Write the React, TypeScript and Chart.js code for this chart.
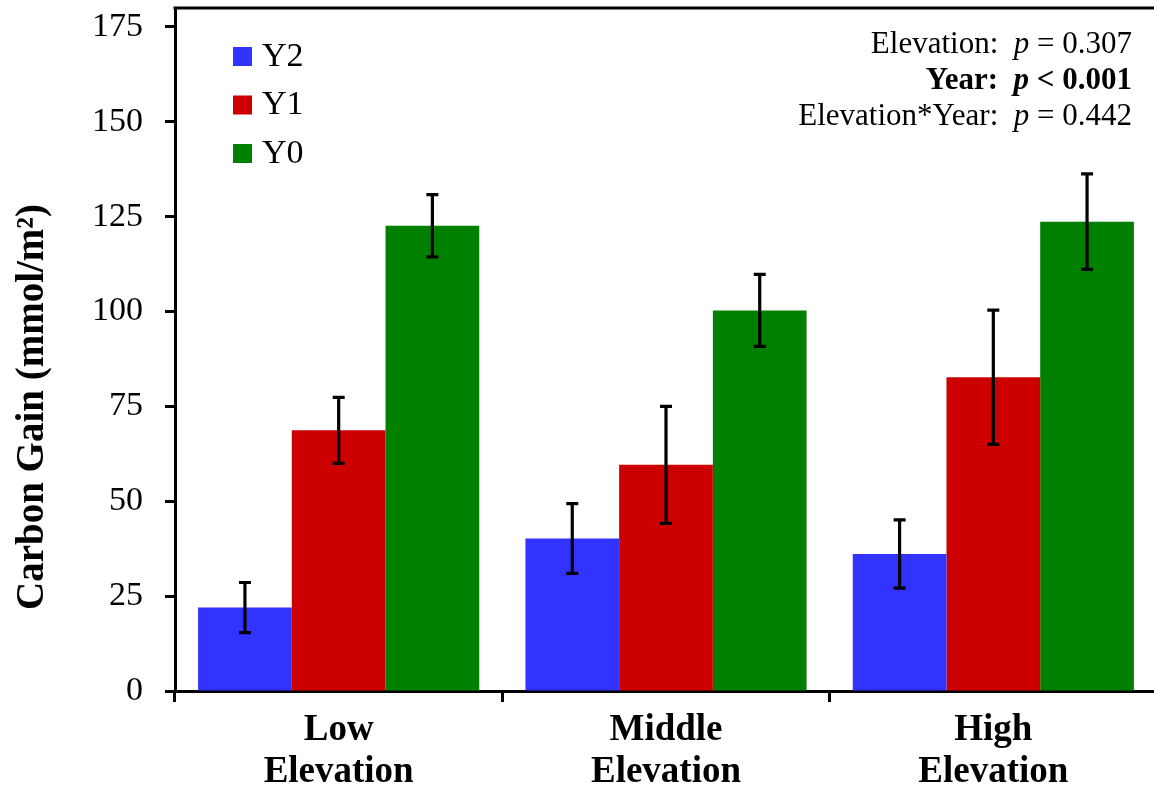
import React, { useEffect, useRef } from "react";
import { Chart, registerables } from "chart.js";

Chart.register(...registerables);

// ---- data ----
const categories = [["Low", "Elevation"], ["Middle", "Elevation"], ["High", "Elevation"]];
const seriesNames = ["Y2", "Y1", "Y0"];
const y2Values = [22.0, 40.2, 36.1];
const y1Values = [68.7, 59.6, 82.7];
const y0Values = [122.6, 100.3, 123.7];
const y2Errors = [6.6, 9.2, 9.0];
const y1Errors = [8.7, 15.4, 17.7];
const y0Errors = [8.2, 9.5, 12.6];
const seriesColors = ["#3333FF", "#CC0000", "#008000"];
const yAxisTitle = "Carbon Gain (mmol/m²)";
const yMin = 0;
const yMax = 180;
const yStep = 25;
const statLabels = ["Elevation:", "Year:", "Elevation*Year:"];
const statOperators = ["=", "<", "="];
const statValues = ["0.307", "0.001", "0.442"];
const statBold = [false, true, false];

const FAMILY = "'Liberation Serif', 'Times New Roman', Times, serif";

const overlayPlugin = {
  id: "overlay",
  afterDatasetsDraw(chart: any) {
    const ctx = chart.ctx;
    const ys = chart.scales.y;
    const area = chart.chartArea;
    ctx.save();
    // error bars
    chart.data.datasets.forEach((ds: any, i: number) => {
      const meta = chart.getDatasetMeta(i);
      meta.data.forEach((el: any, j: number) => {
        const v = ds.data[j];
        const e = ds.errors[j];
        const top = ys.getPixelForValue(v + e);
        const bot = ys.getPixelForValue(v - e);
        const cap = 6;
        ctx.strokeStyle = "#000";
        ctx.lineWidth = 3.2;
        ctx.lineCap = "butt";
        ctx.beginPath();
        ctx.moveTo(el.x, top);
        ctx.lineTo(el.x, bot);
        ctx.moveTo(el.x - cap, top);
        ctx.lineTo(el.x + cap, top);
        ctx.moveTo(el.x - cap, bot);
        ctx.lineTo(el.x + cap, bot);
        ctx.stroke();
      });
    });
    // top frame line
    ctx.strokeStyle = "#000";
    ctx.lineWidth = 3;
    ctx.beginPath();
    ctx.moveTo(area.left - 1.5, area.top);
    ctx.lineTo(chart.width, area.top);
    ctx.stroke();

    // y axis title
    ctx.save();
    ctx.translate(43, 610);
    ctx.rotate(-Math.PI / 2);
    ctx.font = `bold 39px ${FAMILY}`;
    ctx.fillStyle = "#000";
    ctx.textAlign = "left";
    ctx.textBaseline = "alphabetic";
    ctx.fillText(yAxisTitle, 0, 0);
    ctx.restore();

    // legend
    const lx = area.left + 58;
    const ly0 = area.top + 39;
    const gap = 48.5;
    ctx.textBaseline = "middle";
    ctx.textAlign = "left";
    ctx.font = `34px ${FAMILY}`;
    chart.data.datasets.forEach((ds: any, i: number) => {
      const y = ly0 + i * gap;
      ctx.fillStyle = ds.backgroundColor;
      ctx.fillRect(lx, y, 19, 19);
      ctx.fillStyle = "#000";
      ctx.fillText(ds.label, lx + 29, y + 10);
    });

    // statistics text
    const rightX = 1132;
    const base0 = 53;
    const lineGap = 36;
    const size = 31;
    ctx.textBaseline = "alphabetic";
    statLabels.forEach((lab, i) => {
      const b = statBold[i] ? "bold " : "";
      const segs = [
        { t: lab + "  ", f: `${b}${size}px ${FAMILY}` },
        { t: "p", f: `italic ${b}${size}px ${FAMILY}` },
        { t: ` ${statOperators[i]} ${statValues[i]}`, f: `${b}${size}px ${FAMILY}` },
      ];
      let total = 0;
      segs.forEach((s) => {
        ctx.font = s.f;
        total += ctx.measureText(s.t).width;
      });
      let x = rightX - total;
      const y = base0 + i * lineGap;
      ctx.fillStyle = "#000";
      segs.forEach((s) => {
        ctx.font = s.f;
        ctx.fillText(s.t, x, y);
        x += ctx.measureText(s.t).width;
      });
    });
    ctx.restore();
  },
};

export default function App() {
  const ref = useRef<HTMLCanvasElement | null>(null);
  useEffect(() => {
    const canvas = ref.current!;
    const values = [y2Values, y1Values, y0Values];
    const errors = [y2Errors, y1Errors, y0Errors];
    const chart = new Chart(canvas, {
      type: "bar",
      data: {
        labels: categories,
        datasets: seriesNames.map((name, i) => ({
          label: name,
          data: values[i],
          errors: errors[i],
          backgroundColor: seriesColors[i],
          borderWidth: 0,
          categoryPercentage: 0.859,
          barPercentage: 1.0,
        })) as any,
      },
      options: {
        responsive: false,
        animation: false,
        devicePixelRatio: 1,
        layout: { padding: { top: 8, right: 3, left: 0, bottom: 0 } },
        plugins: { legend: { display: false }, tooltip: { enabled: false } },
        scales: {
          x: {
            afterFit(scale: any) {
              scale.height = 95;
              scale.paddingLeft = 0;
              scale.paddingRight = 0;
            },
            border: { display: true, color: "#000", width: 3 },
            grid: {
              display: true,
              drawOnChartArea: false,
              drawTicks: true,
              tickLength: 11,
              tickWidth: 3,
              tickColor: "#000",
              offset: true,
            },
            ticks: {
              color: "#000",
              autoSkip: false,
              maxRotation: 0,
              padding: 7,
              font: { family: FAMILY, size: 37, weight: "bold", lineHeight: 1.14 },
            },
          },
          y: {
            min: yMin,
            max: yMax,
            afterFit(scale: any) {
              scale.width = 175;
              scale.paddingTop = 0;
              scale.paddingBottom = 0;
            },
            border: { display: true, color: "#000", width: 3 },
            grid: {
              display: true,
              drawOnChartArea: false,
              drawTicks: true,
              tickLength: 10,
              tickWidth: 3,
              tickColor: "#000",
            },
            ticks: {
              stepSize: yStep,
              includeBounds: false,
              color: "#000",
              padding: 22,
              font: { family: FAMILY, size: 34 },
            },
            title: { display: false },
          },
        },
      },
      plugins: [overlayPlugin],
    } as any);
    return () => chart.destroy();
  }, []);
  return (
    <div
      style={{
        position: "fixed",
        left: 0,
        top: 0,
        width: 1154,
        height: 786,
        overflow: "hidden",
        background: "#fff",
      }}
    >
      <canvas ref={ref} width={1160} height={786} style={{ width: 1160, height: 786, display: "block" }} />
    </div>
  );
}
